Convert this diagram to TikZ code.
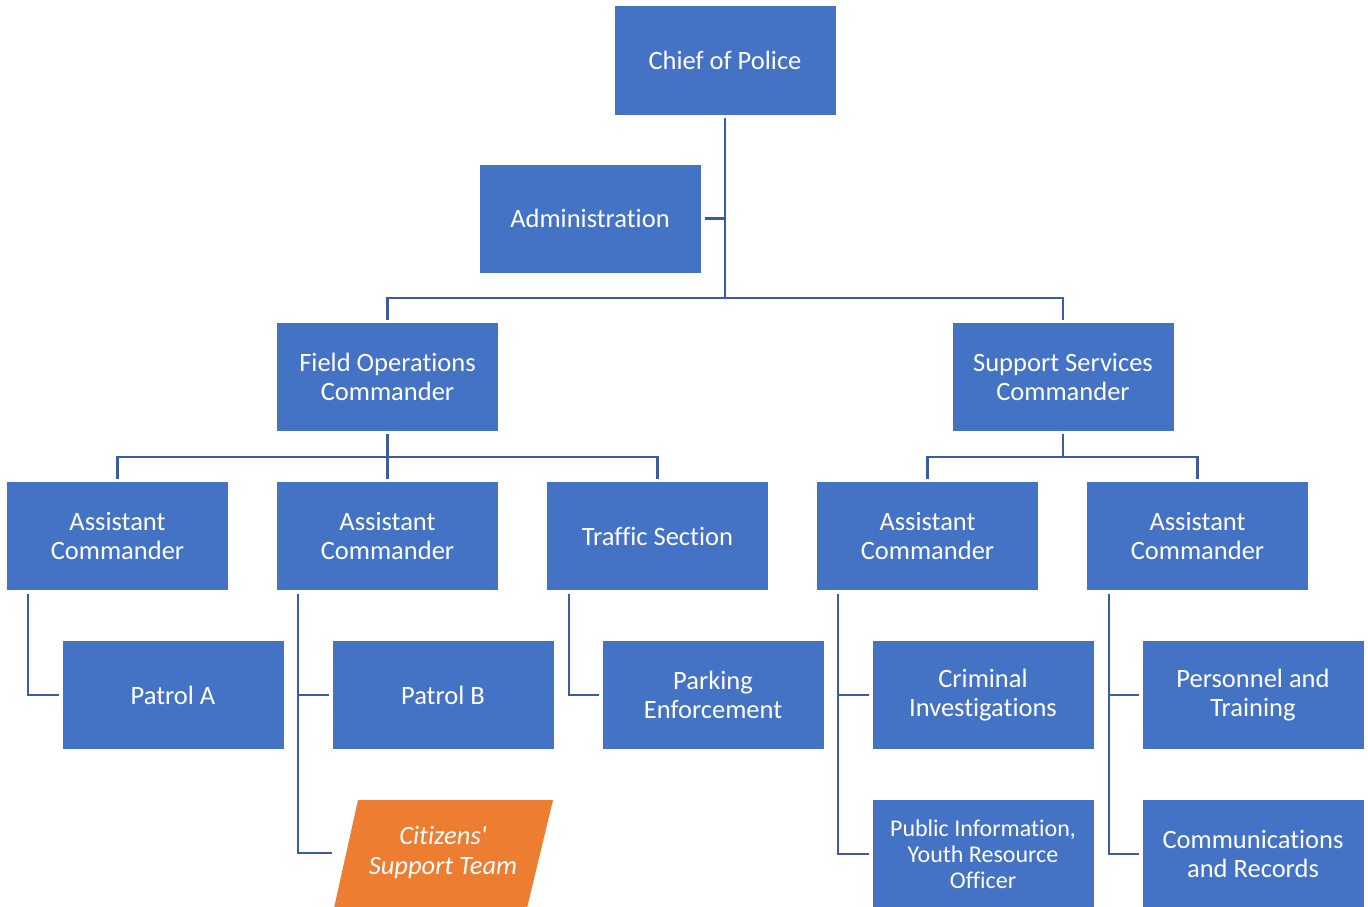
\documentclass[tikz,border=0pt]{standalone}
\usepackage{fontspec}
\setmainfont[Ligatures={TeX,NoCommon}]{Carlito}
\newfontfamily\citfont[Ligatures={TeXOff,NoCommon}]{Carlito}
\usetikzlibrary{calc}
\definecolor{boxblue}{HTML}{4472C4}
\definecolor{lineblue}{HTML}{3B5BA5}
\definecolor{boxorange}{HTML}{ED7D31}
\begin{document}
\begin{tikzpicture}[x=1pt,y=-1pt,
  box/.style={fill=boxblue, text=white, minimum width=221pt, minimum height=108pt,
    align=center, inner sep=0pt, font=\fontsize{26.5}{29}\selectfont},
  conn/.style={draw=lineblue, line width=2.5pt},
  citext/.style={text=white, align=center, inner sep=0pt, font=\citfont\fontsize{26.5}{30}\selectfont\itshape}]
\useasboundingbox (0,0) rectangle (1368,907);
% row 0/1
\node[box] (chief) at (725,60.5) {Chief of Police};
\node[box] (admin) at (590,218.5) {Administration};
% row 2
\node[box] (fo) at (387.5,377) {Field Operations\\Commander};
\node[box] (ss) at (1063,377) {Support Services\\Commander};
% row 3
\node[box] (ac1) at (117.5,536) {Assistant\\Commander};
\node[box] (ac2) at (387.5,536) {Assistant\\Commander};
\node[box] (tr) at (657.5,536) {Traffic Section};
\node[box] (ac3) at (927.5,536) {Assistant\\Commander};
\node[box] (ac4) at (1197.5,536) {Assistant\\Commander};
% row 4
\node[box] (pa) at (173,695) {Patrol A};
\node[box] (pb) at (443,695) {Patrol B};
\node[box] (pk) at (713,695) {Parking\\Enforcement};
\node[box] (ci) at (983,695) {Criminal\\Investigations};
\node[box] (pt) at (1253,695) {Personnel and\\Training};
% row 5
\fill[boxorange] (358,800) -- (553,800) -- (527,908) -- (334,908) -- cycle;
\node[citext] (cst) at (443,853) {Citizens'\\Support Team};
\node[box, font=\fontsize{24}{26}\selectfont] (pi) at (983,854) {Public Information,\\Youth Resource\\Officer};
\node[box] (cr) at (1253,854) {Communications\\and Records};
% junctions
\coordinate (j1) at (725,298);
\coordinate (j2) at (387.5,457);
\coordinate (j3) at (1063,457);
\coordinate (cstin) at (332,853);
% connectors
\draw[conn] ([yshift=-3pt]chief.south) -- (j1);
\draw[conn] ([xshift=4pt]admin.east) -- (admin.east -| j1);
\draw[conn] ([yshift=3pt]fo.north) |- (j1) -| ([yshift=3pt]ss.north);
\draw[conn] ([yshift=-3pt]fo.south) -- (j2);
\draw[conn] ([yshift=3pt]ac1.north) |- (j2) -| ([yshift=3pt]tr.north);
\draw[conn] (j2) -- ([yshift=3pt]ac2.north);
\draw[conn] ([yshift=-3pt]ss.south) -- (j3);
\draw[conn] ([yshift=3pt]ac3.north) |- (j3) -| ([yshift=3pt]ac4.north);
\draw[conn] ([xshift=21pt,yshift=-4pt]ac1.south west) |- ([xshift=-3pt]pa.west);
\draw[conn] ([xshift=21pt,yshift=-4pt]ac2.south west) |- ([xshift=-3pt]pb.west);
\draw[conn] ([xshift=21pt,yshift=-4pt]ac2.south west) |- (cstin);
\draw[conn] ([xshift=22pt,yshift=-4pt]tr.south west) |- ([xshift=-3pt]pk.west);
\draw[conn] ([xshift=21pt,yshift=-4pt]ac3.south west) |- ([xshift=-3pt]ci.west);
\draw[conn] ([xshift=21pt,yshift=-4pt]ac3.south west) |- ([xshift=-3pt]pi.west);
\draw[conn] ([xshift=22pt,yshift=-4pt]ac4.south west) |- ([xshift=-3pt]pt.west);
\draw[conn] ([xshift=22pt,yshift=-4pt]ac4.south west) |- ([xshift=-3pt]cr.west);
\end{tikzpicture}
\end{document}
